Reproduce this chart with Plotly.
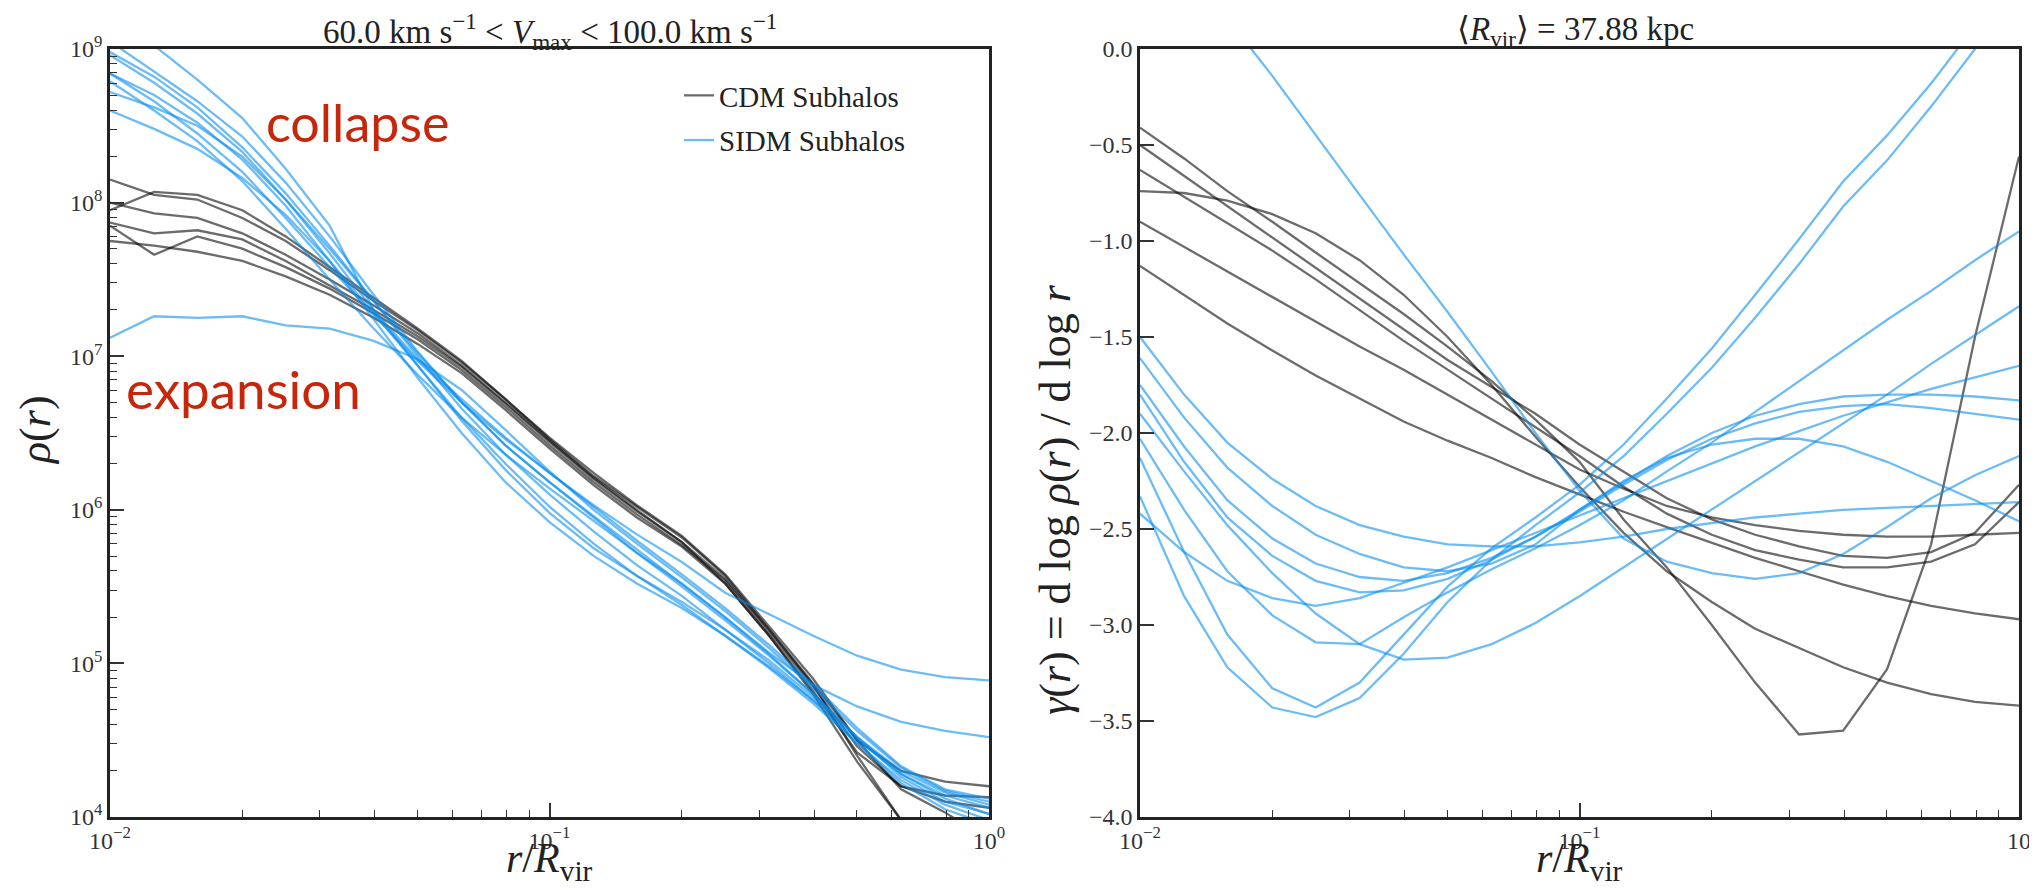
import numpy as np
import plotly.graph_objects as go

# ---------------- data ----------------
# radii r / R_vir shared by all profiles
r_over_rvir = [0.01, 0.0126, 0.0158, 0.02, 0.0251, 0.0316, 0.0398, 0.0501, 0.0631, 0.0794,
               0.1, 0.126, 0.158, 0.2, 0.251, 0.316, 0.398, 0.501, 0.631, 0.794, 1.0]

# left panel: log10 of density rho(r)
cdm_log_rho_1 = [8.15, 8.05, 8.02, 7.90, 7.75, 7.56, 7.36, 7.17, 6.96, 6.72, 6.47, 6.24, 6.03, 5.83, 5.58, 5.24, 4.90, 4.50, 4.18, 4.03, 3.85]
cdm_log_rho_2 = [7.95, 8.07, 8.05, 7.95, 7.78, 7.58, 7.38, 7.18, 6.97, 6.72, 6.46, 6.22, 6.02, 5.82, 5.57, 5.22, 4.86, 4.40, 3.98, 3.70, 3.45]
cdm_log_rho_3 = [8.00, 7.93, 7.90, 7.80, 7.66, 7.50, 7.33, 7.15, 6.94, 6.70, 6.45, 6.21, 6.00, 5.79, 5.52, 5.18, 4.82, 4.42, 4.20, 4.14, 4.13]
cdm_log_rho_4 = [7.87, 7.80, 7.82, 7.76, 7.62, 7.46, 7.30, 7.13, 6.93, 6.69, 6.44, 6.20, 5.99, 5.79, 5.55, 5.22, 4.87, 4.50, 4.30, 4.23, 4.20]
cdm_log_rho_5 = [7.85, 7.66, 7.78, 7.70, 7.58, 7.44, 7.28, 7.11, 6.91, 6.67, 6.42, 6.18, 5.97, 5.77, 5.54, 5.20, 4.85, 4.46, 4.20, 4.10, 4.06]
cdm_log_rho_6 = [7.75, 7.72, 7.68, 7.62, 7.52, 7.40, 7.25, 7.08, 6.89, 6.65, 6.40, 6.16, 5.95, 5.76, 5.52, 5.18, 4.80, 4.36, 3.98, 3.65, 3.35]

sidm_log_rho_1 = [8.84, 8.66, 8.45, 8.20, 7.90, 7.58, 7.27, 6.97, 6.70, 6.46, 6.24, 6.03, 5.84, 5.66, 5.46, 5.32, 5.18, 5.05, 4.96, 4.91, 4.89]
sidm_log_rho_2 = [8.79, 8.60, 8.40, 8.14, 7.83, 7.50, 7.18, 6.88, 6.60, 6.36, 6.14, 5.93, 5.72, 5.52, 5.30, 5.07, 4.86, 4.72, 4.62, 4.56, 4.52]
sidm_log_rho_3 = [9.25, 9.02, 8.80, 8.55, 8.22, 7.85, 7.30, 6.98, 6.72, 6.47, 6.24, 6.02, 5.80, 5.58, 5.36, 5.12, 4.86, 4.58, 4.33, 4.18, 4.12]
sidm_log_rho_4 = [9.05, 8.85, 8.66, 8.43, 8.13, 7.78, 7.40, 7.03, 6.70, 6.42, 6.18, 5.95, 5.72, 5.50, 5.28, 5.05, 4.80, 4.52, 4.28, 4.12, 4.02]
sidm_log_rho_5 = [8.98, 8.82, 8.62, 8.36, 8.06, 7.72, 7.36, 7.00, 6.66, 6.36, 6.10, 5.86, 5.64, 5.44, 5.22, 5.00, 4.76, 4.48, 4.22, 4.05, 3.95]
sidm_log_rho_6 = [8.96, 8.78, 8.58, 8.33, 8.02, 7.67, 7.30, 6.94, 6.58, 6.26, 5.98, 5.75, 5.57, 5.40, 5.22, 5.02, 4.78, 4.52, 4.30, 4.16, 4.08]
sidm_log_rho_7 = [8.72, 8.62, 8.50, 8.30, 8.02, 7.70, 7.36, 7.02, 6.70, 6.42, 6.18, 5.96, 5.74, 5.52, 5.30, 5.06, 4.80, 4.52, 4.26, 4.10, 4.02]
sidm_log_rho_8 = [8.60, 8.48, 8.35, 8.16, 7.92, 7.62, 7.28, 6.94, 6.60, 6.30, 6.02, 5.78, 5.57, 5.38, 5.18, 4.97, 4.74, 4.48, 4.24, 4.08, 3.98]
sidm_log_rho_9 = [8.84, 8.70, 8.52, 8.28, 7.98, 7.62, 7.24, 6.86, 6.50, 6.18, 5.92, 5.70, 5.52, 5.36, 5.18, 4.98, 4.76, 4.50, 4.28, 4.14, 4.06]
sidm_log_rho_10 = [7.12, 7.26, 7.25, 7.26, 7.20, 7.18, 7.10, 6.98, 6.78, 6.52, 6.25, 6.00, 5.78, 5.56, 5.34, 5.10, 4.84, 4.56, 4.32, 4.17, 4.10]

# right panel: logarithmic slope gamma(r)
cdm_gamma_1 = [-0.41, -0.57, -0.74, -0.90, -1.06, -1.22, -1.38, -1.55, -1.73, -1.93, -2.15, -2.45, -2.70, -3.00, -3.30, -3.57, -3.55, -3.23, -2.58, -1.50, -0.56]
cdm_gamma_2 = [-0.50, -0.66, -0.82, -0.98, -1.14, -1.30, -1.46, -1.62, -1.76, -1.90, -2.06, -2.20, -2.34, -2.45, -2.53, -2.59, -2.64, -2.65, -2.62, -2.52, -2.27]
cdm_gamma_3 = [-0.63, -0.77, -0.91, -1.05, -1.20, -1.36, -1.52, -1.67, -1.82, -1.97, -2.12, -2.28, -2.42, -2.53, -2.61, -2.66, -2.70, -2.70, -2.67, -2.58, -2.36]
cdm_gamma_4 = [-0.74, -0.75, -0.79, -0.86, -0.96, -1.10, -1.28, -1.50, -1.75, -2.02, -2.28, -2.52, -2.72, -2.88, -3.02, -3.12, -3.22, -3.30, -3.36, -3.40, -3.42]
cdm_gamma_5 = [-0.90, -1.03, -1.16, -1.29, -1.42, -1.55, -1.67, -1.80, -1.93, -2.06, -2.19, -2.29, -2.38, -2.44, -2.48, -2.51, -2.53, -2.54, -2.54, -2.53, -2.52]
cdm_gamma_6 = [-1.13, -1.28, -1.43, -1.57, -1.70, -1.82, -1.94, -2.04, -2.13, -2.23, -2.32, -2.41, -2.49, -2.57, -2.65, -2.72, -2.79, -2.85, -2.90, -2.94, -2.97]

sidm_gamma_1 = [-2.13, -2.62, -3.05, -3.33, -3.43, -3.30, -3.05, -2.80, -2.60, -2.44, -2.27, -2.06, -1.82, -1.56, -1.28, -0.99, -0.69, -0.45, -0.18, 0.12, 0.45]
sidm_gamma_2 = [-2.33, -2.85, -3.22, -3.43, -3.48, -3.38, -3.15, -2.88, -2.66, -2.48, -2.31, -2.12, -1.90, -1.66, -1.40, -1.12, -0.82, -0.58, -0.30, 0.00, 0.32]
sidm_gamma_3 = [-2.03, -2.40, -2.72, -2.95, -3.09, -3.10, -2.96, -2.83, -2.71, -2.60, -2.48, -2.35, -2.20, -2.05, -1.89, -1.73, -1.57, -1.41, -1.26, -1.10, -0.95]
sidm_gamma_4 = [-1.90, -2.20, -2.48, -2.73, -2.94, -3.10, -3.18, -3.17, -3.10, -2.99, -2.85, -2.70, -2.55, -2.40, -2.25, -2.10, -1.95, -1.80, -1.64, -1.49, -1.34]
sidm_gamma_5 = [-2.42, -2.62, -2.77, -2.86, -2.90, -2.86, -2.78, -2.70, -2.61, -2.52, -2.43, -2.34, -2.25, -2.16, -2.07, -1.99, -1.91, -1.84, -1.77, -1.71, -1.65]
sidm_gamma_6 = [-1.80, -2.15, -2.44, -2.64, -2.77, -2.83, -2.82, -2.76, -2.66, -2.54, -2.40, -2.26, -2.12, -2.00, -1.91, -1.85, -1.81, -1.80, -1.80, -1.81, -1.83]
sidm_gamma_7 = [-1.75, -2.07, -2.35, -2.55, -2.68, -2.75, -2.77, -2.73, -2.65, -2.54, -2.41, -2.27, -2.14, -2.03, -1.95, -1.89, -1.86, -1.85, -1.87, -1.90, -1.93]
sidm_gamma_8 = [-1.61, -1.92, -2.18, -2.38, -2.53, -2.63, -2.70, -2.72, -2.68, -2.58, -2.40, -2.25, -2.13, -2.06, -2.03, -2.03, -2.07, -2.15, -2.25, -2.35, -2.46]
sidm_gamma_9 = [-1.50, -1.80, -2.05, -2.24, -2.38, -2.48, -2.54, -2.58, -2.59, -2.59, -2.57, -2.54, -2.50, -2.47, -2.44, -2.42, -2.40, -2.39, -2.38, -2.37, -2.36]
sidm_gamma_10 = [0.78, 0.47, 0.16, -0.14, -0.45, -0.76, -1.07, -1.37, -1.68, -2.00, -2.30, -2.55, -2.67, -2.73, -2.76, -2.73, -2.63, -2.49, -2.34, -2.22, -2.12]

cdm_rho_series = [cdm_log_rho_1, cdm_log_rho_2, cdm_log_rho_3, cdm_log_rho_4, cdm_log_rho_5, cdm_log_rho_6]
sidm_rho_series = [sidm_log_rho_1, sidm_log_rho_2, sidm_log_rho_3, sidm_log_rho_4, sidm_log_rho_5,
                   sidm_log_rho_6, sidm_log_rho_7, sidm_log_rho_8, sidm_log_rho_9, sidm_log_rho_10]
cdm_gamma_series = [cdm_gamma_1, cdm_gamma_2, cdm_gamma_3, cdm_gamma_4, cdm_gamma_5, cdm_gamma_6]
sidm_gamma_series = [sidm_gamma_1, sidm_gamma_2, sidm_gamma_3, sidm_gamma_4, sidm_gamma_5,
                     sidm_gamma_6, sidm_gamma_7, sidm_gamma_8, sidm_gamma_9, sidm_gamma_10]

# tick labels
rho_tick_values = [1e4, 1e5, 1e6, 1e7, 1e8, 1e9]
rho_tick_labels = ["10<sup>4</sup>", "10<sup>5</sup>", "10<sup>6</sup>", "10<sup>7</sup>", "10<sup>8</sup>", "10<sup>9</sup>"]
r_tick_values = [0.01, 0.1, 1.0]
r_tick_labels_left = ["10<sup>\u22122</sup>", "10<sup>\u22121</sup>", "10<sup>0</sup>"]
r_tick_labels_right = ["10<sup>\u22122</sup>", "10<sup>\u22121</sup>", "10"]
gamma_tick_values = [0.0, -0.5, -1.0, -1.5, -2.0, -2.5, -3.0, -3.5, -4.0]
gamma_tick_labels = ["0.0", "\u22120.5", "\u22121.0", "\u22121.5", "\u22122.0", "\u22122.5", "\u22123.0", "\u22123.5", "\u22124.0"]

# ---------------- styling ----------------
# the page body has an 8px margin; the figure is sized to fit inside the window
PAGE_OFF = 8
FW, FH = 2037 - 2 * PAGE_OFF, 895 - 2 * PAGE_OFF


def px(xpage):
    return (xpage - PAGE_OFF) / FW


def py(ypage):
    return 1 - (ypage - PAGE_OFF) / FH


SERIF = "Liberation Serif"
CDM_COLOR = "rgba(0,0,0,0.58)"
SIDM_COLOR = "rgba(0,140,240,0.58)"
LW = 2.3

X1 = [px(110), px(989)]
X2 = [px(1140), px(2019)]
YD = [py(817), py(49)]

fig = go.Figure()

r = np.array(r_over_rvir)
for i, s in enumerate(cdm_rho_series):
    fig.add_trace(go.Scatter(x=r, y=10 ** np.array(s), mode="lines", xaxis="x", yaxis="y",
                             line=dict(color=CDM_COLOR, width=LW), name="CDM Subhalos",
                             legendgroup="cdm", showlegend=(i == 0), hoverinfo="skip"))
for i, s in enumerate(sidm_rho_series):
    fig.add_trace(go.Scatter(x=r, y=10 ** np.array(s), mode="lines", xaxis="x", yaxis="y",
                             line=dict(color=SIDM_COLOR, width=LW), name="SIDM Subhalos",
                             legendgroup="sidm", showlegend=(i == 0), hoverinfo="skip"))
for s in cdm_gamma_series:
    fig.add_trace(go.Scatter(x=r, y=s, mode="lines", xaxis="x2", yaxis="y2",
                             line=dict(color=CDM_COLOR, width=LW), name="CDM Subhalos",
                             legendgroup="cdm", showlegend=False, hoverinfo="skip"))
for s in sidm_gamma_series:
    fig.add_trace(go.Scatter(x=r, y=s, mode="lines", xaxis="x2", yaxis="y2",
                             line=dict(color=SIDM_COLOR, width=LW), name="SIDM Subhalos",
                             legendgroup="sidm", showlegend=False, hoverinfo="skip"))

minor_r = [k * 0.01 for k in range(2, 10)] + [k * 0.1 for k in range(2, 10)]
minor_rho = [k * 10 ** e for e in range(4, 9) for k in range(2, 10)]

tickfont = dict(family=SERIF, size=24, color="#333")
common = dict(showline=True, linewidth=2.5, linecolor="#222", mirror=True, showgrid=False,
              zeroline=False, ticks="inside", ticklen=14, tickwidth=1.5, tickcolor="#333",
              tickfont=tickfont, automargin=False, ticklabeloverflow="allow")
minor_style = dict(ticks="inside", ticklen=7, tickwidth=1.2, tickcolor="#333", showgrid=False)

fig.update_layout(
    width=FW, height=FH,
    margin=dict(l=0, r=0, t=0, b=0),
    paper_bgcolor="white", plot_bgcolor="white",
    hovermode=False,
    xaxis=dict(type="log", domain=X1, range=[-2, 0], anchor="y",
               tickmode="array", tickvals=r_tick_values, ticktext=r_tick_labels_left,
               minor=dict(tickmode="array", tickvals=minor_r, **minor_style), **common),
    yaxis=dict(type="log", domain=YD, range=[4, 9], anchor="x",
               tickmode="array", tickvals=rho_tick_values, ticktext=rho_tick_labels,
               minor=dict(tickmode="array", tickvals=minor_rho, **minor_style), **common),
    xaxis2=dict(type="log", domain=X2, range=[-2, 0], anchor="y2",
                tickmode="array", tickvals=r_tick_values, ticktext=r_tick_labels_right,
                minor=dict(tickmode="array", tickvals=minor_r, **minor_style), **common),
    yaxis2=dict(domain=YD, range=[-4, 0], anchor="x2",
                tickmode="array", tickvals=gamma_tick_values, ticktext=gamma_tick_labels,
                **common),
    legend=dict(x=px(679), y=py(70), xanchor="left", yanchor="top",
                bgcolor="rgba(0,0,0,0)", font=dict(family=SERIF, size=29, color="#222"),
                tracegroupgap=4),
)

ann = []


def note(text, x, y, size, family=SERIF, color="#222", angle=0):
    ann.append(dict(text=text, x=px(x), y=py(y), xref="paper", yref="paper",
                    xanchor="center", yanchor="middle", showarrow=False, textangle=angle,
                    font=dict(family=family, size=size, color=color)))


# panel titles
note("60.0 km s<sup>\u22121</sup> &lt; <i>V</i><sub>max</sub> &lt; 100.0 km s<sup>\u22121</sup>",
     549.5, 31, 33)
note("\u27e8<i>R</i><sub>vir</sub>\u27e9 = 37.88 kpc", 1575, 31, 33)
# axis titles
note("<i>r</i>/<i>R</i><sub>vir</sub>", 549.5, 861, 42)
note("<i>r</i>/<i>R</i><sub>vir</sub>", 1579.5, 861, 42)
note("<i>\u03c1</i>(<i>r</i>)", 35, 430, 44, angle=-90)
note("<i>\u03b3</i>(<i>r</i>) = d log <i>\u03c1</i>(<i>r</i>) / d log <i>r</i>", 1055, 500, 44, angle=-90)
# red notes
note("collapse", 357, 122, 52, family="Lato", color="#c8260a")
note("expansion", 243, 388, 53, family="Lato", color="#c8260a")

fig.update_layout(annotations=ann)

fig.write_html("out.html")
